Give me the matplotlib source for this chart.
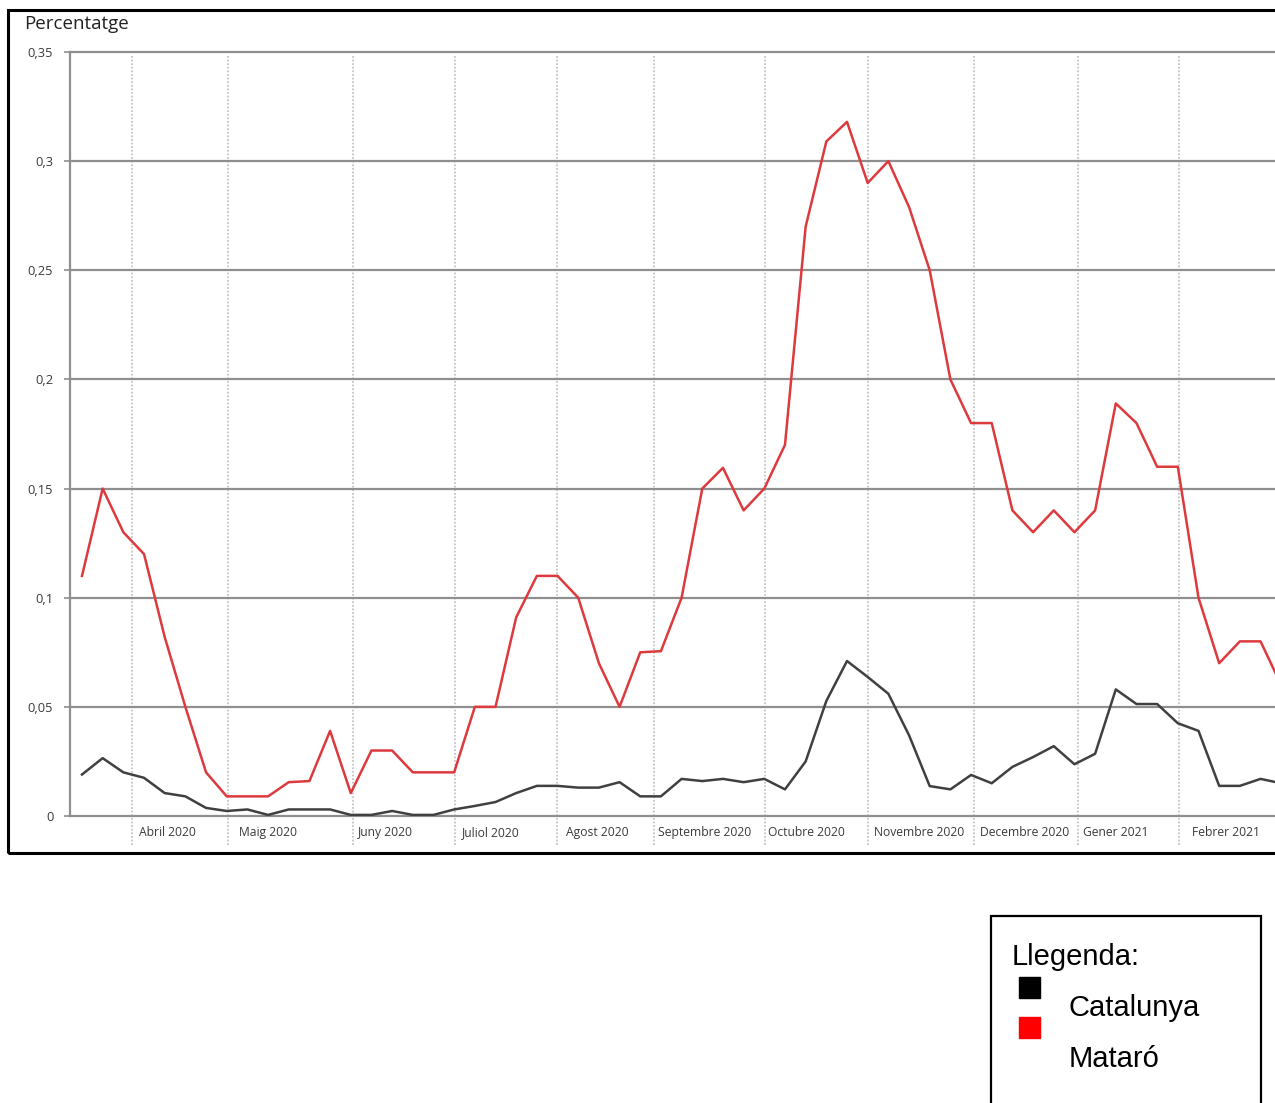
import numpy as np
import matplotlib
matplotlib.use("Agg")
import matplotlib.pyplot as plt
from matplotlib.patches import Rectangle
from matplotlib.transforms import blended_transform_factory

# ---- data (weekly values) ----
mataro = [0.110, 0.150, 0.130, 0.120, 0.082, 0.050, 0.020, 0.009, 0.009, 0.009,
          0.0155, 0.016, 0.039, 0.0105, 0.030, 0.030, 0.020, 0.020, 0.020, 0.050,
          0.050, 0.091, 0.110, 0.110, 0.100, 0.070, 0.050, 0.075, 0.0755, 0.100,
          0.150, 0.1595, 0.140, 0.150, 0.170, 0.270, 0.309, 0.318, 0.290, 0.300,
          0.279, 0.250, 0.200, 0.180, 0.180, 0.140, 0.130, 0.140, 0.130, 0.140,
          0.189, 0.180, 0.160, 0.160, 0.100, 0.070, 0.080, 0.080, 0.060]
catalunya = [0.019, 0.0265, 0.020, 0.0175, 0.0105, 0.009, 0.0037, 0.0023, 0.003, 0.0005,
             0.003, 0.003, 0.003, 0.0005, 0.0005, 0.0023, 0.0005, 0.0005, 0.003, 0.0046,
             0.0064, 0.0105, 0.0138, 0.0138, 0.013, 0.013, 0.0155, 0.009, 0.009, 0.017,
             0.016, 0.017, 0.0155, 0.017, 0.0122, 0.025, 0.0527, 0.071, 0.0637, 0.056,
             0.037, 0.0137, 0.0122, 0.0188, 0.015, 0.0225, 0.027, 0.032, 0.0237, 0.0285,
             0.058, 0.0513, 0.0513, 0.0425, 0.039, 0.0138, 0.0138, 0.017, 0.015]
weeks = np.arange(len(mataro))

month_labels = ["Abril 2020", "Maig 2020", "Juny 2020", "Juliol 2020", "Agost 2020",
                "Septembre 2020", "Octubre 2020", "Novembre 2020", "Decembre 2020",
                "Gener 2021", "Febrer 2021"]
month_starts = [2.42, 7.06, 13.1, 18.05, 22.98, 27.67, 33.04, 38.03, 43.15, 48.19, 53.07]
month_label_pos = [4.14, 9.02, 14.66, 19.76, 24.92, 30.12, 35.03, 40.47, 45.6, 50.02, 55.35]

yticks = [0, 0.05, 0.1, 0.15, 0.2, 0.25, 0.3, 0.35]
ytick_labels = ["0", "0,05", "0,1", "0,15", "0,2", "0,25", "0,3", "0,35"]

# ---- figure ----
W, H = 1275, 1103
fig = plt.figure(figsize=(W / 100, H / 100), dpi=100)

def fx(px):
    return px / W

def fy(py):
    return 1 - py / H

# outer frame
fig.patches.append(Rectangle((fx(8), fy(853)), fx(1300) - fx(8), fy(10) - fy(853),
                             transform=fig.transFigure, fill=False, lw=2.2,
                             edgecolor="black", zorder=0))

ax = fig.add_axes([fx(70), fy(816), fx(1275) - fx(70), fy(52) - fy(816)])
ax.set_xlim(-0.58, 57.7)
ax.set_ylim(0, 0.35)

grid_col = "#8f8f8f"
for s in ["top", "right"]:
    ax.spines[s].set_visible(False)
for s in ["left", "bottom"]:
    ax.spines[s].set_color(grid_col)
    ax.spines[s].set_linewidth(1.6)

ax.set_yticks(yticks)
ax.set_yticklabels(ytick_labels, fontfamily="Open Sans", fontsize=9.3, color="#3a3a3a")
ax.tick_params(axis="y", length=4, width=1.2, color=grid_col, pad=8)
ax.set_xticks([])
for yv in yticks[1:]:
    ax.axhline(yv, color=grid_col, lw=1.6, zorder=1, clip_on=False)

for ms in month_starts:
    ax.axvline(ms, ymin=-0.038, ymax=0.996, color="#c4c4c4", lw=1.3,
               linestyle=(0, (1, 1)), zorder=0.5, clip_on=False)

trans = blended_transform_factory(ax.transData, ax.transAxes)
for lab, xp in zip(month_labels, month_label_pos):
    ax.text(xp, -0.0215, lab, transform=trans, ha="center", va="center",
            fontfamily="Open Sans", fontsize=8.7, color="#3a3a3a")

ax.plot(weeks, catalunya, color="#404040", lw=1.8, zorder=3)
ax.plot(weeks, mataro, color="#dd3a3e", lw=1.8, zorder=3)

fig.text(fx(24), fy(24), "Percentatge", fontfamily="Open Sans", fontsize=13.5,
         color="#222222", ha="left", va="center")

# legend box
fig.patches.append(Rectangle((fx(991), fy(1110)), fx(1261) - fx(991), fy(916) - fy(1110),
                             transform=fig.transFigure, fill=False, lw=1.6,
                             edgecolor="black"))
fig.text(fx(1012), fy(957), "Llegenda:", fontfamily="Liberation Sans", fontsize=21,
         ha="left", va="center", color="black")
fig.patches.append(Rectangle((fx(1019), fy(998)), fx(1040) - fx(1019), fy(977) - fy(998),
                             transform=fig.transFigure, color="black"))
fig.patches.append(Rectangle((fx(1019), fy(1038)), fx(1040) - fx(1019), fy(1017) - fy(1038),
                             transform=fig.transFigure, color="#ff0000"))
fig.text(fx(1069), fy(1008), "Catalunya", fontfamily="Liberation Sans", fontsize=21,
         ha="left", va="center", color="black")
fig.text(fx(1069), fy(1059), "Mataró", fontfamily="Liberation Sans", fontsize=21,
         ha="left", va="center", color="black")

fig.savefig("out.png", dpi=100)
